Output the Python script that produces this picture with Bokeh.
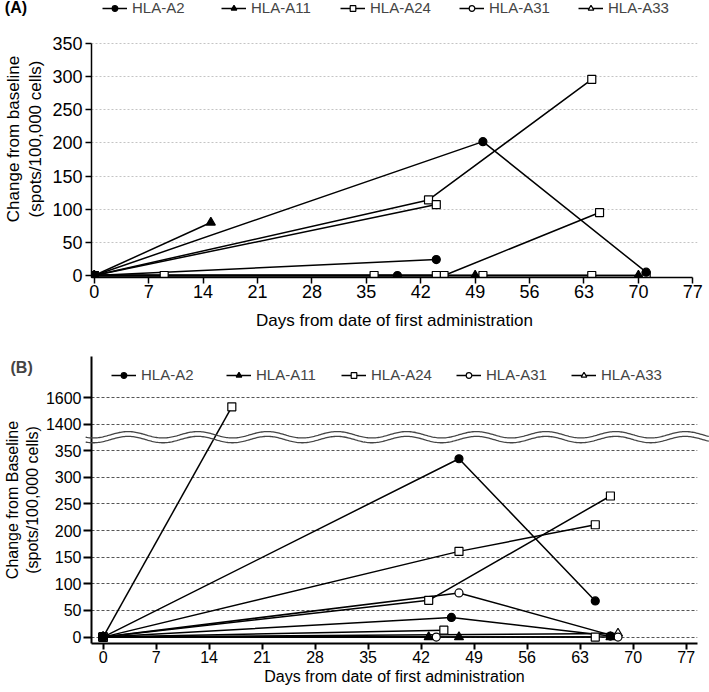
import numpy as np
from bokeh.plotting import figure
from bokeh.models import Legend, LegendItem, FixedTicker, Label, Range1d
from bokeh.core.properties import value
from bokeh.layouts import column
from bokeh.embed import file_html
from bokeh.resources import INLINE

ALLELES = ["HLA-A2", "HLA-A11", "HLA-A24", "HLA-A31", "HLA-A33"]
DAY_TICKS = [0, 7, 14, 21, 28, 35, 42, 49, 56, 63, 70, 77]

# ---------------- Panel A data (one inner list per subject) ----------------
A_A2_days = [[0, 44], [0, 50, 71], [0, 39]]
A_A2_vals = [[0, 24], [0, 202, 5], [0, 0]]
A_A11_days = [[0, 15], [0, 49, 70]]
A_A11_vals = [[0, 80], [0, 0, 0]]
A_A24_days = [[0, 43, 64], [0, 44], [0, 45, 65], [0, 9], [0, 36, 64], [0, 44], [0, 50, 71]]
A_A24_vals = [[0, 114, 296], [0, 107], [0, 0, 95], [0, 0], [0, 0, 0], [0, 0], [0, 0, 0]]
A_A31_days = []
A_A31_vals = []
A_A33_days = []
A_A33_vals = []
A_Y_TICKS = [0, 50, 100, 150, 200, 250, 300, 350]

# ---------------- Panel B data ----------------
B_A2_days = [[0, 47, 65], [0, 46, 67]]
B_A2_vals = [[0, 335, 68], [0, 37, 2]]
B_A11_days = [[0, 43], [0, 47, 67]]
B_A11_vals = [[0, 0], [0, 0, 0]]
B_A24_days = [[0, 17], [0, 43, 67], [0, 47, 65], [0, 45], [0, 65]]
B_A24_vals = [[0, 1530], [0, 69, 265], [0, 161, 211], [0, 13], [0, 0]]
B_A31_days = [[0, 47, 68], [0, 44]]
B_A31_vals = [[0, 83, 0], [0, 0]]
B_A33_days = [[0, 68]]
B_A33_vals = [[0, 7]]
B_Y_TICKS = [0, 50, 100, 150, 200, 250, 300, 350, 1400, 1600]

STYLE = {
    "HLA-A2": dict(marker="circle", size=8, fill_color="black"),
    "HLA-A11": dict(marker="triangle", size=9, fill_color="black"),
    "HLA-A24": dict(marker="square", size=8, fill_color="white"),
    "HLA-A31": dict(marker="circle", size=8, fill_color="white"),
    "HLA-A33": dict(marker="triangle", size=9, fill_color="white"),
}
FONT = "Liberation Sans"
NAN = float("nan")


def brk(v):
    # broken axis: lower segment linear, upper segment (>=1400) compressed
    return v if v <= 375 else 400 + (v - 1400) * 0.25


def add_series(p, series, transform=lambda v: v):
    lines = {}
    scat = {}
    for name, (days, vals) in zip(ALLELES, series):
        if not days:  # allele without measurements: keep a legend entry only
            days, vals = [[NAN]], [[NAN]]
        ys = [[transform(v) for v in tr] for tr in vals]
        lines[name] = p.multi_line(xs=days, ys=ys, line_color="black", line_width=1.5)
    for name, (days, vals) in reversed(list(zip(ALLELES, series))):
        if not days:
            days, vals = [[NAN]], [[NAN]]
        fx = [d for tr in days for d in tr]
        fy = [transform(v) for tr in vals for v in tr]
        st = STYLE[name]
        scat[name] = p.scatter(x=fx, y=fy, marker=st["marker"], size=st["size"],
                               fill_color=st["fill_color"], line_color="black", line_width=1.2)
    return [LegendItem(label=n, renderers=[lines[n], scat[n]]) for n in ALLELES]


def style_axes(p, tick_size, label_size, lw):
    for ax in (p.xaxis[0], p.yaxis[0]):
        ax.axis_line_width = lw
        ax.axis_line_color = "black"
        ax.major_tick_line_width = lw
        ax.major_tick_in = 0
        ax.major_tick_out = 6
        ax.minor_tick_line_color = None
        ax.major_label_text_font = FONT
        ax.major_label_text_font_size = tick_size
        ax.major_label_text_color = "black"
        ax.axis_label_text_font = FONT
        ax.axis_label_text_font_size = label_size
        ax.axis_label_text_font_style = "normal"
        ax.axis_label_text_color = "black"
    p.xaxis.ticker = FixedTicker(ticks=DAY_TICKS)
    p.xgrid.grid_line_color = None
    p.outline_line_color = None


# ---------------- Panel A ----------------
pA = figure(width=709, height=338, x_range=Range1d(-0.35, 77.6), y_range=Range1d(-3, 415),
            output_backend="svg", toolbar_location=None,
            min_border_left=89, min_border_right=5, min_border_top=0, min_border_bottom=61)
style_axes(pA, "18px", "17px", 1.5)
pA.yaxis.ticker = FixedTicker(ticks=A_Y_TICKS)
pA.xaxis.bounds = (-0.35, 77)
pA.yaxis.bounds = (-3, 350)
pA.ygrid.ticker = FixedTicker(ticks=A_Y_TICKS[1:])
pA.ygrid.grid_line_color = "#c4c4c4"
pA.ygrid.grid_line_dash = "2 2"
pA.xaxis.axis_label = "Days from date of first administration"
pA.yaxis.axis_label = "Change from baseline\n(spots/100,000 cells)"
pA.xaxis.axis_label_standoff = 10
pA.yaxis.axis_label_standoff = 4
pA.xaxis.major_label_standoff = 1
pA.yaxis.major_label_standoff = 3

itemsA = add_series(pA, [(A_A2_days, A_A2_vals), (A_A11_days, A_A11_vals),
                         (A_A24_days, A_A24_vals), (A_A31_days, A_A31_vals),
                         (A_A33_days, A_A33_vals)])
legA = Legend(items=itemsA, orientation="horizontal", location=(11, 261),
              glyph_width=25, glyph_height=14, label_height=14, label_width=80,
              label_standoff=5, spacing=9, padding=0, margin=0,
              border_line_color=None, background_fill_alpha=0,
              label_text_font=FONT, label_text_font_size="15px")
pA.add_layout(legA)
# panel tag drawn as an unclipped overlay text (left of the frame, top row)
pA.text(x=[-11.5], y=[404.5], text=["(A)"], level="overlay",
        text_font=value(FONT), text_font_size="16px", text_font_style="bold",
        text_baseline="middle", text_align="left", text_color="black")

# ---------------- Panel B ----------------
pB = figure(width=709, height=354, x_range=Range1d(-1.53, 78.5), y_range=Range1d(-12, 527),
            output_backend="svg", toolbar_location=None,
            min_border_left=86, min_border_right=12, min_border_top=18, min_border_bottom=49)
style_axes(pB, "16px", "16px", 2)
b_tick_pos = [brk(v) for v in B_Y_TICKS]
pB.yaxis.ticker = FixedTicker(ticks=b_tick_pos)
pB.yaxis.major_label_overrides = {brk(v): str(v) for v in B_Y_TICKS}
pB.ygrid.ticker = FixedTicker(ticks=b_tick_pos)
pB.ygrid.grid_line_color = "#555555"
pB.ygrid.grid_line_dash = "3 2"
pB.xaxis.axis_label = "Days from date of first administration"
pB.yaxis.axis_label = "Change from Baseline\n(spots/100,000 cells)"
pB.xaxis.axis_label_standoff = 2
pB.yaxis.axis_label_standoff = 2
pB.xaxis.major_label_standoff = 1
pB.yaxis.major_label_standoff = 2
pB.yaxis.major_tick_out = 8

# axis-break symbol (two wavy lines), drawn over the axis like the original
wx = np.linspace(-2.3, 80.0, 500)
wave = 6.0 * np.sin(2 * np.pi * (wx - 1.0) / 9.2)
pB.line(wx, 380 + wave, line_color="#444444", line_width=1.3, level="overlay")
pB.line(wx, 371 + wave, line_color="#444444", line_width=1.3, level="overlay")

itemsB = add_series(pB, [(B_A2_days, B_A2_vals), (B_A11_days, B_A11_vals),
                         (B_A24_days, B_A24_vals), (B_A31_days, B_A31_vals),
                         (B_A33_days, B_A33_vals)], transform=brk)
legB = Legend(items=itemsB, orientation="horizontal", location=(20, 260),
              glyph_width=25, glyph_height=14, label_height=14, label_width=78,
              label_standoff=5, spacing=7, padding=0, margin=0,
              border_line_color=None, background_fill_color="white", background_fill_alpha=1,
              label_text_font=FONT, label_text_font_size="15px")
pB.add_layout(legB)
pB.add_layout(Label(x=10, y=29, x_units="canvas", y_units="canvas", text="(B)",
                    text_font=FONT, text_font_size="16px", text_font_style="bold",
                    text_baseline="middle"), "above")

layout = column(pA, pB, spacing=0)
open("out.html", "w").write(file_html(layout, INLINE))
